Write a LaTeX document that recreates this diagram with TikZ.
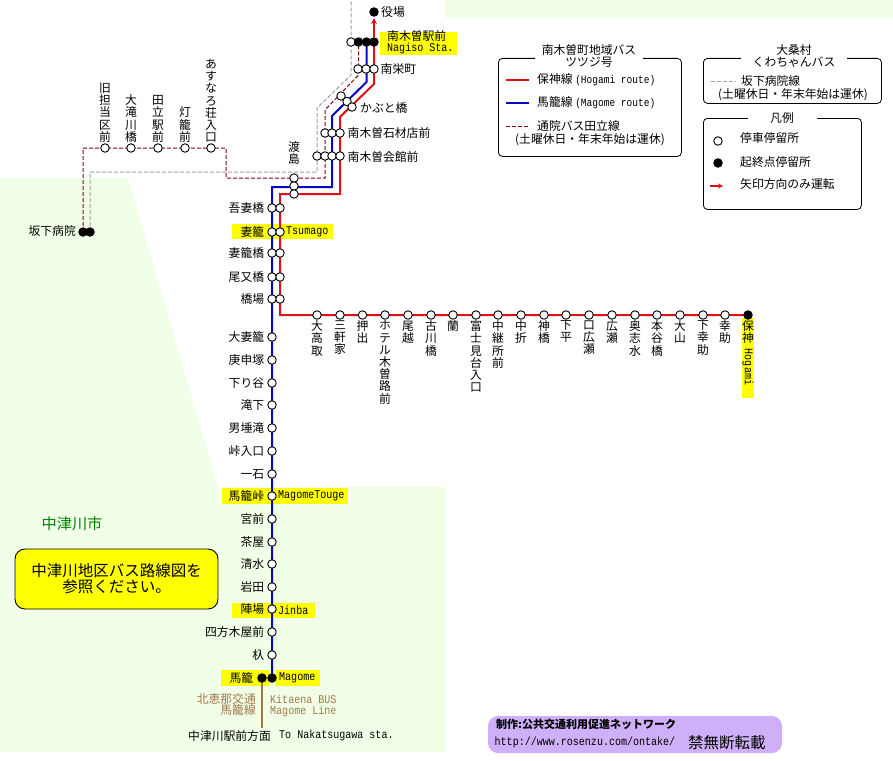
\documentclass[tikz,border=0pt]{standalone}
\usepackage{fontspec}
\setmainfont{Noto Sans CJK JP}
\newfontfamily\latinmono[FakeStretch=0.85]{Liberation Mono}
\usetikzlibrary{positioning}
\pgfdeclarelayer{bg}
\pgfsetlayers{bg,main}
\newcommand{\labfont}{\fontsize{11.8}{12.2}\selectfont}
\newcommand{\monofont}{\latinmono\fontsize{11.8}{12}\selectfont}
\definecolor{landgreen}{HTML}{F2FFE8}
\definecolor{labelyellow}{HTML}{FFFF00}
\definecolor{routered}{HTML}{E01018}
\definecolor{routeblue}{HTML}{0808C0}
\definecolor{routedark}{HTML}{800010}
\definecolor{routegrey}{HTML}{A0A0A0}
\definecolor{linebrown}{HTML}{A07848}
\definecolor{creditpurple}{HTML}{CFB0F8}
\tikzset{
  stopo/.style={circle,draw=black,fill=white,line width=0.9pt,inner sep=0pt,minimum size=8.5pt},
  stopf/.style={circle,draw=black,fill=black,line width=0.9pt,inner sep=0pt,minimum size=8.5pt},
  lab/.style={font=\labfont,inner sep=0pt,text=black},
  vlab/.style={font=\labfont,inner sep=0pt,align=center,text width=12pt},
  latin/.style={font=\monofont,inner sep=0pt},
  brownlab/.style={lab,text=linebrown},
  redline/.style={routered,line width=2pt},
  blueline/.style={routeblue,line width=2pt},
  darkline/.style={routedark,line width=1pt,dash pattern=on 4pt off 2pt},
  greyline/.style={routegrey,line width=1pt,dash pattern=on 4pt off 2pt},
  panel/.style={draw=black,line width=0.8pt,rounded corners=4pt,anchor=north west,inner sep=0pt},
  paneltitle/.style={font=\labfont,fill=white,inner sep=0pt,align=center},
  yband/.style={fill=labelyellow,draw=none}
}
\begin{document}
\begin{tikzpicture}[x=1pt,y=-1pt]
\useasboundingbox (0,0) rectangle (893,760);
\begin{pgfonlayer}{bg}
\fill[landgreen] (445,0) -- (893,0) -- (893,18) -- (445,18) -- cycle;
\fill[landgreen] (0,178) -- (128,178) -- (218,487) -- (445,487) -- (445,752) -- (0,752) -- cycle;
\fill[yband] (380,32) rectangle (457,55);
\fill[yband] (232,224) rectangle (333,239);
\fill[yband] (222,488) rectangle (348,504);
\fill[yband] (232,603) rectangle (315,618);
\fill[yband] (221,670) rectangle (269,686);
\fill[yband] (276,670) rectangle (320,686);
\fill[yband] (742,318) rectangle (754,398);
\end{pgfonlayer}

\foreach \n/\y/\txt in {1/208/吾妻橋,2/232/妻籠,3/253/妻籠橋,4/277/尾又橋,5/299/橋場}{
  \node[stopo] (m\n) at (272,\y) {};
  \node[stopo] (r\n) at (280,\y) {};
  \node[lab,left=3pt of m\n] (lm\n) {\txt};
}
\foreach \n/\y/\txt in {6/337/大妻籠,7/360/庚申塚,8/383/下り谷,9/405/滝下,10/428/男埵滝,11/451/峠入口,12/474/一石,13/496/馬籠峠,14/519/宮前,15/542/茶屋,16/564/清水,17/587/岩田,18/609/陣場,19/632/四方木屋前,20/655/杁}{
  \node[stopo] (m\n) at (272,\y) {};
  \node[lab,left=3pt of m\n] (lm\n) {\txt};
}
\node[stopf] (mgb) at (272,678) {};
\node[stopf] (mgw) at (262,678) {};
\node[lab,left=4pt of mgw] (lmg) {馬籠};
\node[latin,anchor=west] (ltsu) at (286,231.5) {Tsumago};
\node[latin,anchor=west] (ltou) at (278,496) {MagomeTouge};
\node[latin,anchor=west] (ljin) at (278,610) {Jinba};
\node[latin,anchor=west] (lmag) at (279,678) {Magome};

\foreach \n/\x/\txt in {1/317/大\\高\\取,2/340/三\\軒\\家,3/362.5/押\\出,4/385/ホ\\テ\\ル\\木\\曽\\路\\前,5/408/尾\\越,6/431/古\\川\\橋,7/453/蘭,8/476/富\\士\\見\\台\\入\\口,9/498/中\\継\\所\\前,10/521/中\\折,11/544/神\\橋,12/566/下\\平,13/589/口\\広\\瀬,14/612/広\\瀬,15/635/奥\\志\\水,16/657/本\\谷\\橋,17/680/大\\山,18/703/下\\幸\\助,19/725/幸\\助}{
  \node[stopo] (h\n) at (\x,315) {};
  \node[vlab,anchor=north] (lh\n) at (\x,320.5) {\txt};
}
\node[stopf] (hog) at (748,315) {};
\node[vlab,anchor=north] (lhog) at (748,320.5) {保\\神};
\node[latin,rotate=-90] (lhogl) at (748,367) {Hogami};

\foreach \n/\x/\txt in {1/105/旧\\担\\当\\区\\前,2/131/大\\滝\\川\\橋,3/158/田\\立\\駅\\前,4/185/灯\\籠\\前,5/211/あ\\す\\な\\ろ\\荘\\入\\口}{
  \node[stopo] (t\n) at (\x,148) {};
  \node[vlab,anchor=south] (lt\n) at (\x,142.5) {\txt};
}
\node[stopf] (sbd) at (83,232) {};
\node[stopf] (sbg) at (90,232) {};
\node[lab,anchor=east] (lsb) at (76,231) {坂下病院};

\node[stopo] (wd) at (294,178) {};
\node[stopo] (wb) at (294,186) {};
\node[stopo] (wr) at (294,194) {};
\node[vlab,anchor=south] (lw) at (294,165) {渡\\島};
\node[stopo] (kg) at (317,156) {};
\node[stopo] (kd) at (325,156) {};
\node[stopo] (kb) at (332,156) {};
\node[stopo] (kr) at (340,156) {};
\node[lab,anchor=west] (lk) at (347.5,157) {南木曽会館前};
\node[stopo] (sd) at (325,133) {};
\node[stopo] (sb) at (332,133) {};
\node[stopo] (sr) at (340,133) {};
\node[lab,anchor=west] (ls) at (347.5,132.5) {南木曽石材店前};
\node[stopo] (bgd) at (341,96) {};
\node[stopo] (bgb) at (347,101.5) {};
\node[stopo] (bgr) at (352,107) {};
\node[lab,anchor=west] (lbg) at (360,108) {かぶと橋};
\node[stopo] (nsd) at (358,69) {};
\node[stopo] (nsb) at (366,69) {};
\node[stopo] (nsr) at (374,69) {};
\node[lab,anchor=west] (lns) at (380.5,69) {南栄町};
\node[stopo] (ng) at (351,42) {};
\node[stopf] (nd) at (358.5,42) {};
\node[stopf] (nb) at (366.5,42) {};
\node[stopf] (nr) at (374,42) {};
\node[lab,anchor=west] (ln1) at (387,36) {南木曽駅前};
\node[latin,anchor=west] (ln2) at (387,48) {Nagiso Sta.};
\node[stopf] (yk) at (374,12) {};
\node[lab,anchor=west] (lyk) at (381,12) {役場};

\coordinate (rA) at (280,315);
\coordinate (rB) at (280,194);
\coordinate (rC) at (340,194);
\coordinate (rD) at (340,117);
\coordinate (rE) at (374,84);
\coordinate (bA) at (272,187);
\coordinate (bB) at (332,187);
\coordinate (bC) at (332,116);
\coordinate (bD) at (366.5,82);
\coordinate (dA) at (83,148);
\coordinate (dB) at (226,148);
\coordinate (dC) at (226,178);
\coordinate (dD) at (325,178);
\coordinate (dE) at (325,110);
\coordinate (dF) at (358.5,75);
\coordinate (gA) at (90,172);
\coordinate (gB) at (317,172);
\coordinate (gC) at (317,108);
\coordinate (gD) at (351,75);
\coordinate (gE) at (351,0);
\coordinate (mgs) at (262,728);
\begin{pgfonlayer}{bg}
\draw[greyline] (sbg.center) -- (gA) -- (gB) -- (gC) -- (gD) -- (gE);
\draw[darkline] (sbd.center) -- (dA) -- (dB) -- (dC) -- (dD) -- (dE) -- (dF) -- (nd.center);
\draw[redline] (hog.center) -- (rA) -- (rB) -- (rC) -- (rD) -- (rE) -- (nr.center);
\draw[blueline] (mgb.center) -- (bA) -- (bB) -- (bC) -- (bD) -- (nb.center);
\draw[linebrown,line width=1.5pt] (mgw.center) -- (mgs);
\end{pgfonlayer}
\draw[routered,line width=1.5pt,-stealth,shorten >=1.5pt] (nr) -- (yk);

\node[brownlab,anchor=east] (lk1) at (256,699) {北恵那交通};
\node[brownlab,anchor=east] (lk2) at (256,710) {馬籠線};
\node[latin,text=linebrown,anchor=west] (lk3) at (270,699) {Kitaena BUS};
\node[latin,text=linebrown,anchor=west] (lk4) at (270,711) {Magome Line};
\node[lab,anchor=east] (ldir) at (271,736) {中津川駅前方面};
\node[latin,anchor=west] (ldirl) at (279,735) {To Nakatsugawa sta.};

\node[panel,minimum width=183pt,minimum height=98pt] (pa) at (498,58) {};
\node[paneltitle,minimum width=108pt] (pat) at (589,56) {南木曽町地域バス\\ツツジ号};
\coordinate (paR1) at (506,80);
\coordinate (paR2) at (529,80);
\coordinate (paB1) at (506,103);
\coordinate (paB2) at (529,103);
\coordinate (paD1) at (506,126);
\coordinate (paD2) at (529,126);
\draw[redline] (paR1) -- (paR2);
\draw[blueline] (paB1) -- (paB2);
\draw[darkline] (paD1) -- (paD2);
\node[lab,anchor=west] (par) at (537,80) {保神線 {\latinmono\fontsize{11.2}{11}\selectfont (Hogami route)}};
\node[lab,anchor=west] (pab) at (537,103) {馬籠線 {\latinmono\fontsize{11.2}{11}\selectfont (Magome route)}};
\node[lab,anchor=west] (pad) at (537,126) {通院バス田立線};
\node[lab] (pan) at (590,140) {(土曜休日・年末年始は運休)};

\node[panel,minimum width=178pt,minimum height=45pt] (pb) at (703,58) {};
\node[paneltitle,minimum width=106pt] (pbt) at (794,56) {大桑村\\くわちゃんバス};
\coordinate (pbG1) at (711,81);
\coordinate (pbG2) at (736,81);
\draw[greyline] (pbG1) -- (pbG2);
\node[lab,anchor=west] (pbg) at (741,81) {坂下病院線};
\node[lab] (pbn) at (793,95) {(土曜休日・年末年始は運休)};

\node[panel,minimum width=158pt,minimum height=91pt] (pc) at (703,118) {};
\node[paneltitle,minimum width=69pt] (pct) at (782,118) {凡例};
\node[stopo] (pcO) at (718,141) {};
\node[stopf] (pcF) at (718,163) {};
\coordinate (pcA1) at (710,186);
\coordinate (pcA2) at (723,186);
\draw[routered,line width=1.2pt,-stealth] (pcA1) -- (pcA2);
\node[lab,anchor=west] (pco) at (740,138.5) {停車停留所};
\node[lab,anchor=west] (pcf) at (740,162) {起終点停留所};
\node[lab,anchor=west] (pca) at (740,184) {矢印方向のみ運転};

\node[font=\fontsize{15.2}{16}\selectfont,text=green!50!black,inner sep=0pt] (city) at (72,524) {中津川市};
\node[draw=black,fill=labelyellow,line width=0.9pt,rounded corners=10pt,minimum width=203pt,minimum height=60pt,align=center,inner sep=0pt,font=\fontsize{15.5}{16}\selectfont] (note) at (116.5,579) {中津川地区バス路線図を\\参照ください。};

\node[fill=creditpurple,rounded corners=10pt,minimum width=294pt,minimum height=37pt,inner sep=0pt] (credit) at (635,734.5) {};
\node[lab,font=\bfseries\fontsize{11}{12}\selectfont,anchor=west] (cr1) at (496,724) {制作:公共交通利用促進ネットワーク};
\node[latin,anchor=west] (cr2) at (494.5,742.5) {http://www.rosenzu.com/ontake/};
\node[lab,font=\fontsize{15.5}{17}\selectfont,anchor=west] (cr3) at (688,743) {禁無断転載};
\end{tikzpicture}
\end{document}
